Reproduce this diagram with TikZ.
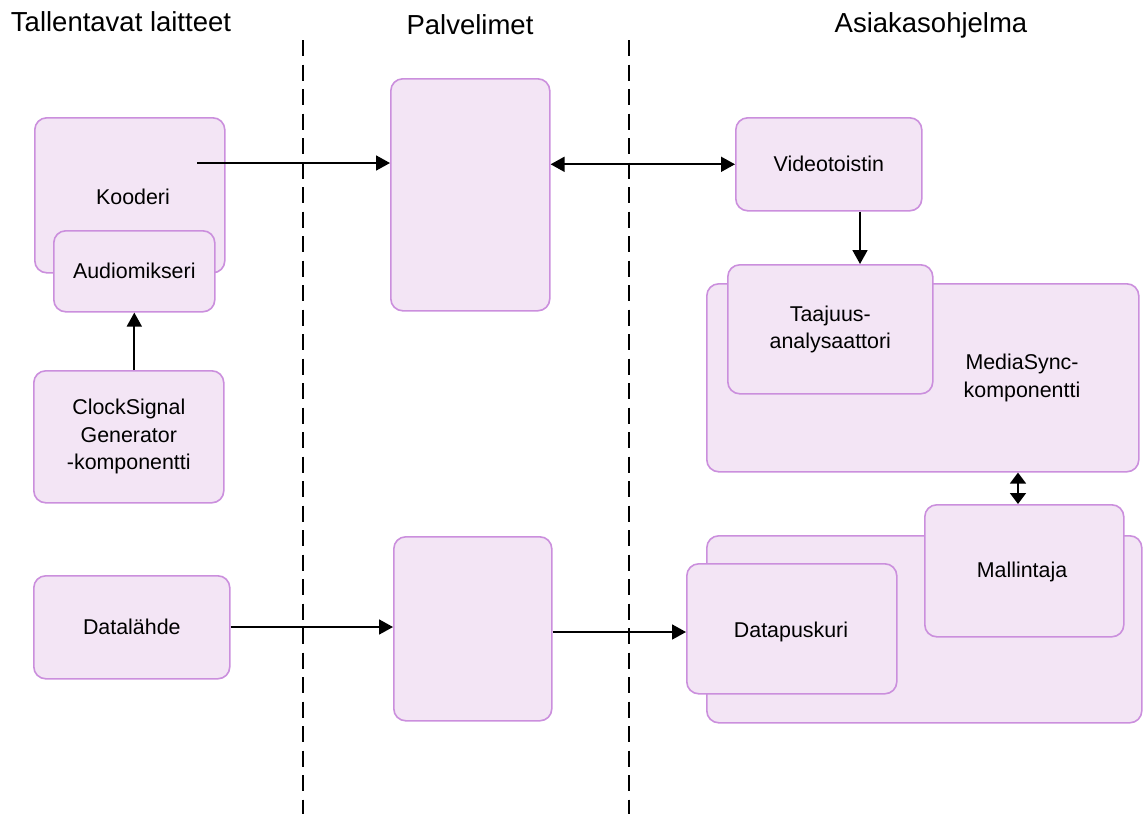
\documentclass[tikz,border=0pt]{standalone}
\usepackage{fontspec}
\setmainfont{Liberation Sans}
\usetikzlibrary{arrows.meta}
\definecolor{boxfill}{HTML}{F3E5F5}
\definecolor{boxline}{HTML}{CB8FDD}
\tikzset{
  box/.style={draw=boxline, fill=boxfill, line width=1.6pt, rounded corners=12pt,
    anchor=north west, inner sep=0pt, align=center,
    font=\fontsize{21.4}{27.5}\selectfont},
  boxtext/.style={align=center, inner sep=0pt, font=\fontsize{21.4}{27.5}\selectfont},
  title/.style={font=\fontsize{27.5}{33}\selectfont, inner sep=0pt},
  divider/.style={line width=1.6pt, dash pattern=on 16pt off 8.5pt},
  tip/.style={Triangle[length=14pt,width=15pt]},
  link/.style={line width=1.8pt, -{Triangle[length=14pt,width=15pt]}},
  link2/.style={line width=1.8pt, {Triangle[length=14pt,width=15pt]}-{Triangle[length=14pt,width=15pt]}},
  slink2/.style={line width=1.8pt, {Triangle[length=11pt,width=16pt]}-{Triangle[length=11pt,width=16pt]}}
}
\begin{document}
\begin{tikzpicture}[x=1pt,y=-1pt]
\useasboundingbox (0,0) rectangle (1144,814);

% column headings
\node[title] (t1) at (121,22) {Tallentavat laitteet};
\node[title] (t2) at (470,25) {Palvelimet};
\node[title] (t3) at (931,25) {Asiakasohjelma};

% column dividers
\coordinate (d1a) at (303,40); \coordinate (d1b) at (303,814);
\coordinate (d2a) at (629,40); \coordinate (d2b) at (629,814);
\draw[divider] (d1a) -- (d1b);
\draw[divider] (d2a) -- (d2b);

% recording devices
\node[box, minimum width=190pt, minimum height=155pt] (kooderi) at (34,117) {};
\node[boxtext] (kooderiT) at (133,197) {Kooderi};
\node[box, minimum width=161pt, minimum height=81pt] (audio) at (53,230) {Audiomikseri};
\node[box, minimum width=190pt, minimum height=132pt] (clock) at (33,370)
  {ClockSignal\\Generator\\-komponentti};
\node[box, minimum width=196pt, minimum height=103pt] (data) at (33,575) {Datalähde};

% servers
\node[box, minimum width=159pt, minimum height=232pt] (srv1) at (390,78) {};
\node[box, minimum width=158pt, minimum height=184pt] (srv2) at (393,536) {};

% client
\node[box, minimum width=186pt, minimum height=93pt] (video) at (735,117) {Videotoistin};
\node[box, minimum width=432pt, minimum height=188pt] (mediasync) at (706,283) {};
\node[boxtext] (mediasyncT) at (1022,378) {MediaSync-\\komponentti};
\node[box, minimum width=205pt, minimum height=129pt] (taajuus) at (727,264)
  {Taajuus-\\analysaattori};
\node[box, minimum width=435pt, minimum height=187pt] (buffergrp) at (706,535) {};
\node[box, minimum width=210pt, minimum height=130pt] (puskuri) at (686,563) {};
\node[boxtext] (puskuriT) at (791,632) {Datapuskuri};
\node[box, minimum width=199pt, minimum height=132pt] (mallintaja) at (924,504) {};
\node[boxtext] (mallintajaT) at (1022,572) {Mallintaja};

% connectors
\coordinate (kout) at (197,163);
\draw[link] (kout) -- (kout -| srv1.west);
\draw[link2] (srv1.east |- video.west) -- (video.west);
\draw[link] (video.south -| 860,0) -- (taajuus.north -| 860,0);
\draw[link] (clock.north -| audio.south) -- (audio.south);
\draw[slink2] (mediasync.south -| 1018,0) -- (mallintaja.north -| 1018,0);
\draw[link] (data.east |- 0,627) -- (srv2.west |- 0,627);
\draw[link] (srv2.east |- 0,632) -- (puskuri.west |- 0,632);
\end{tikzpicture}
\end{document}
